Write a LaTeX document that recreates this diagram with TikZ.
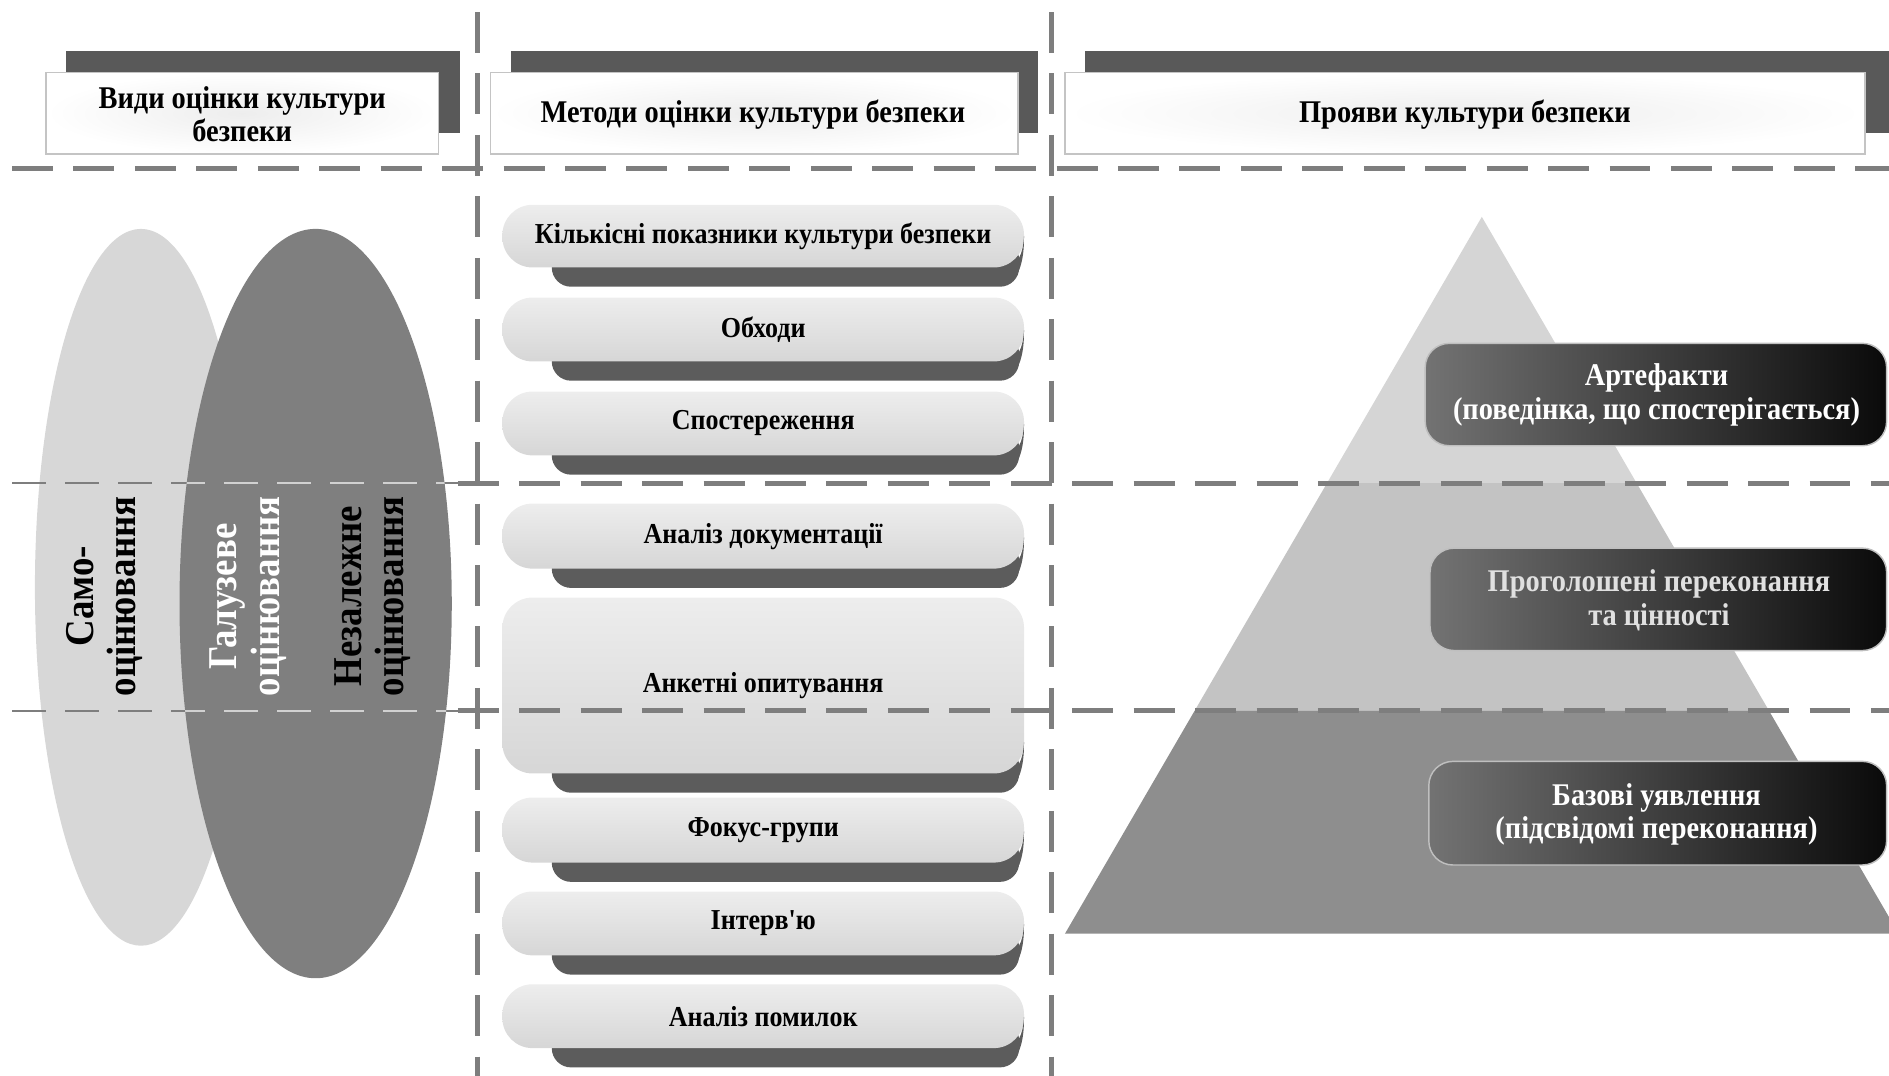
\documentclass[tikz,border=0pt]{standalone}
\usepackage{fontspec}
\setmainfont{Liberation Serif}[Ligatures=TeXOff]
\newfontfamily\narrowserif{Liberation Serif}[Ligatures=TeXOff, FakeStretch=0.9]
\usetikzlibrary{shadings}

\definecolor{dashgray}{HTML}{7E7E7E}
\definecolor{bardark}{HTML}{595959}
\definecolor{boxline}{HTML}{C4C4C4}
\definecolor{ellLight}{HTML}{D7D7D7}
\definecolor{ellDark}{HTML}{7F7F7F}
\definecolor{pyrTop}{HTML}{D5D5D5}
\definecolor{pyrMid}{HTML}{C3C3C3}
\definecolor{pyrBot}{HTML}{8E8E8E}
\definecolor{tabdark}{HTML}{5C5C5C}

\tikzset{
  sepline/.style={dashgray, line width=2.1pt, dash pattern=on 17pt off 8.5pt},
  thinsep/.style={dashgray, line width=0.9pt, dash pattern=on 14pt off 8pt},
  thinsepLight/.style={black!18, line width=0.9pt, dash pattern=on 14pt off 8pt},
  headtext/.style={font=\narrowserif\bfseries\fontsize{13.1}{13.8}\selectfont, align=center, text=black},
  methodtext/.style={font=\narrowserif\bfseries\fontsize{12}{13.8}\selectfont, text=black},
  labeltext/.style={font=\narrowserif\bfseries\fontsize{13.1}{14}\selectfont, align=center, text=white},
  verttext/.style={font=\narrowserif\bfseries\fontsize{17}{17.5}\selectfont, align=center, rotate=90},
  headbar/.style={fill=bardark},
  headbox/.style={draw=boxline, inner color=black!7, outer color=white, line width=0.6pt},
  tab/.style={fill=tabdark, rounded corners=8pt},
  methodfill/.style={top color=black!7, bottom color=black!16, rounded corners=12.5pt},
  darklabel/.style={left color=black!55, middle color=black!88, right color=black!96, rounded corners=10pt, draw=black!25, line width=0.6pt},
}

% one method entry: shadow tab, light rounded bar, curled corner, caption
\newcommand\methodentry[4]{%
  \fill[tab] (458,#3-22) rectangle (846,#3+16);
  \shade[methodfill] (417,#2) rectangle (850,#3);
  \fill[tabdark] (850,#3-26) .. controls (849,#3-10) and (845,#3-2) .. (834,#3)
     -- (846,#3+2) .. controls (849,#3-6) and (850,#3-14) .. cycle;
  \node[methodtext] (#1) at (633.5,{(#2+#3)/2}) {#4};
}

\begin{document}
\begin{tikzpicture}[x=0.5pt,y=-0.5pt]
\useasboundingbox (0,0) rectangle (1568,893);

% ---------- column headers ----------
\fill[headbar] (55,42) rectangle (382,110);
\shade[headbox] (38,60) rectangle (364,128);
\draw[boxline, line width=0.6pt] (38,60) rectangle (364,128);
\node[headtext] (hTypes) at (201,95) {Види оцінки культури\\безпеки};

\fill[headbar] (424,42) rectangle (862,110);
\shade[headbox] (407,60) rectangle (845,128);
\draw[boxline, line width=0.6pt] (407,60) rectangle (845,128);
\node[headtext] (hMethods) at (625,95) {Методи оцінки культури безпеки};

\fill[headbar] (901,42) rectangle (1568,110);
\shade[headbox] (884,60) rectangle (1548,128);
\draw[boxline, line width=0.6pt] (884,60) rectangle (1548,128);
\node[headtext] (hShows) at (1216,95) {Прояви культури безпеки};

% ---------- kinds of assessment: overlapping ellipses ----------
\fill[ellLight] (117,487.5) ellipse [x radius=88, y radius=297.5];
\fill[ellDark] (262,501) ellipse [x radius=113, y radius=311];

% ---------- methods column ----------
\methodentry{m1}{170}{222}{Кількісні показники культури безпеки}
\methodentry{m2}{247}{300}{Обходи}
\methodentry{m3}{325}{378}{Спостереження}
\methodentry{m4}{418}{472}{Аналіз документації}
\methodentry{m5}{496}{642}{Анкетні опитування}
\methodentry{m6}{662}{716}{Фокус-групи}
\methodentry{m7}{740}{793}{Інтерв'ю}
\methodentry{m8}{817}{870}{Аналіз помилок}

% ---------- pyramid of culture levels ----------
\fill[pyrTop] (1230,180) -- (1358.5,401) -- (1101.5,401) -- cycle;
\fill[pyrMid] (1101.5,401) -- (1358.5,401) -- (1468.4,590) -- (991.6,590) -- cycle;
\fill[pyrBot] (991.6,590) -- (1468.4,590) -- (1576,775) -- (884,775) -- cycle;

\shade[darklabel] (1183,285) rectangle (1566,370);
\node[labeltext] (lArt) at (1375,328) {Артефакти\\(поведінка, що спостерігається)};
\shade[darklabel] (1187,455) rectangle (1566,540);
\node[labeltext, text=black!12] (lBel) at (1377,498) {Проголошені переконання\\та цінності};
\shade[darklabel] (1186,632) rectangle (1566,718);
\node[labeltext] (lBas) at (1375,676) {Базові уявлення\\(підсвідомі переконання)};

% ---------- separators ----------
\draw[sepline] (10,140) -- (1568,140);
\draw[sepline] (380,401) -- (1568,401);
\draw[sepline] (380,590) -- (1568,590);
\draw[thinsep] (10,401) -- (380,401);
\draw[thinsep] (10,590) -- (380,590);
\begin{scope}
  \clip (262,501) ellipse [x radius=113, y radius=311];
  \draw[thinsepLight] (10,401) -- (380,401);
  \draw[thinsepLight] (10,590) -- (380,590);
\end{scope}
\draw[sepline] (396,10) -- (396,893);
\draw[sepline] (873,10) -- (873,893);

% ---------- ellipse captions ----------
\node[verttext, text=black] (kSelf) at (87,495) {Само-\\оцінювання};
\node[verttext, text=white] (kBranch) at (206,495) {Галузеве\\оцінювання};
\node[verttext, text=black] (kIndep) at (309,495) {Незалежне\\оцінювання};
\end{tikzpicture}
\end{document}
